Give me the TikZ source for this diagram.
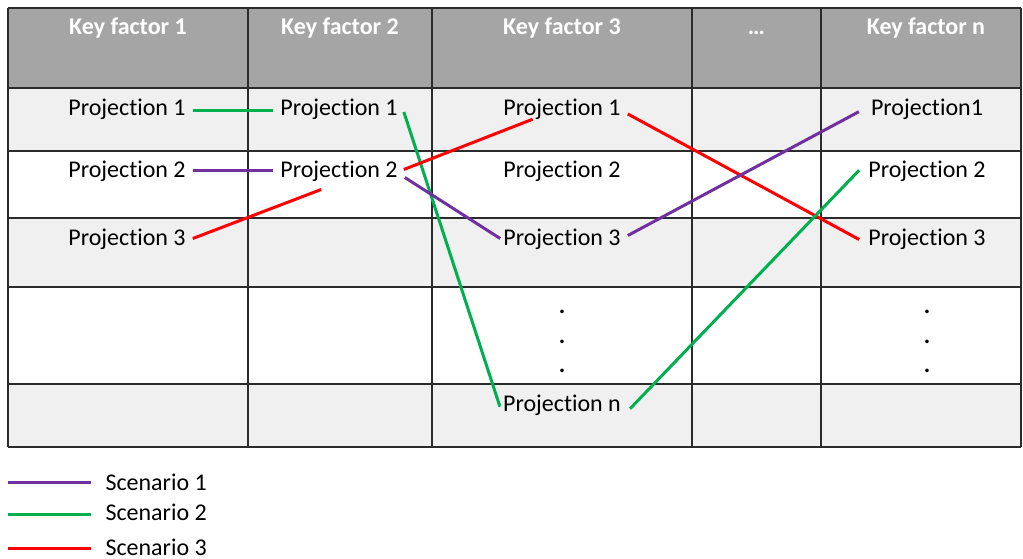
\documentclass[tikz,border=0pt]{standalone}
\usepackage{fontspec}
\setmainfont{Carlito}[Ligatures=NoCommon]
\usetikzlibrary{calc}
\definecolor{hdrgray}{HTML}{A5A5A5}
\definecolor{rowgray}{HTML}{F0F0F0}
\definecolor{gridline}{HTML}{2B2B2B}
\definecolor{scA}{HTML}{7030A0}
\definecolor{scB}{HTML}{00B050}
\definecolor{scC}{HTML}{FF0000}

\begin{document}
\begin{tikzpicture}[x=1pt,y=-1pt,
  cell/.style={font=\fontsize{24}{28}\selectfont, inner sep=0pt, anchor=base},
  head/.style={font=\fontsize{24}{28}\selectfont\bfseries, text=white, inner sep=0pt, anchor=base},
  gridrule/.style={draw=gridline, line width=1.3pt},
  link/.style={line width=3pt},
  sA/.style={link, draw=scA},
  sB/.style={link, draw=scB},
  sC/.style={link, draw=scC}]
\useasboundingbox (0,0) rectangle (1023,559);

% table background: header band and alternating rows
\fill[hdrgray] (8,8) rectangle (1021,88);
\fill[rowgray] (8,88) rectangle (1021,151);
\fill[rowgray] (8,218) rectangle (1021,287);
\fill[rowgray] (8,384) rectangle (1021,447);

% grid
\foreach \yy in {8,88,151,218,287,384,447}
  \draw[gridrule] (8,\yy) -- (1021,\yy);
\foreach \xx in {8,248,432,692,821,1021}
  \draw[gridrule] (\xx,8) -- (\xx,447);

% header
\node[head] (h1) at (128,35) {Key factor 1};
\node[head] (h2) at (340,35) {Key factor 2};
\node[head] (h3) at (562,35) {Key factor 3};
\node[head] (h4) at (756.5,35) {…};
\node[head] (hn) at (926,35) {Key factor n};

% projections
\node[cell] (k1p1) at (127,115.7) {Projection 1};
\node[cell] (k1p2) at (127,177.5) {Projection 2};
\node[cell] (k1p3) at (127,245.5) {Projection 3};
\node[cell] (k2p1) at (339,115.7) {Projection 1};
\node[cell] (k2p2) at (339,177.5) {Projection 2};
\node[cell] (k3p1) at (562,115.7) {Projection 1};
\node[cell] (k3p2) at (562,177.5) {Projection 2};
\node[cell] (k3p3) at (562,245.5) {Projection 3};
\node[cell] (k3pn) at (562,411.5) {Projection n};
\node[cell] (knp1) at (927,115.2) {Projection1};
\node[cell] (knp2) at (927,177.5) {Projection 2};
\node[cell] (knp3) at (927,245.5) {Projection 3};

% vertical ellipses
\foreach \yy/\nm in {313.5/1,343/2,372.5/3}{
  \node[cell, font=\fontsize{24}{28}\selectfont\bfseries] (d3\nm) at (562,\yy) {.};
  \node[cell, font=\fontsize{24}{28}\selectfont\bfseries] (dn\nm) at (927,\yy) {.};
}

% scenario paths
\draw[sB] ([shift={(7,-4.7)}]k1p1.base east) -- ([shift={(-7,-4.7)}]k2p1.base west);
\draw[sA] ([shift={(7,-7)}]k1p2.base east) -- ([shift={(-7,-7)}]k2p2.base west);
\draw[sC] ([shift={(7,-7)}]k1p3.base east) -- ([shift={(41,12)}]k2p2.base west);
\draw[sB] ([shift={(6,-3.7)}]k2p1.base east) -- ([shift={(-3,-4.8)}]k3pn.base west);
\draw[sC] ([shift={(6,-8)}]k2p2.base east) -- ([shift={(29.5,3.5)}]k3p1.base west);
\draw[sA] ([shift={(7,0)}]k2p2.base east) -- ([shift={(-3,-7)}]k3p3.base west);
\draw[sC] ([shift={(7,-1.7)}]k3p1.base east) -- ([shift={(-9,-6)}]knp3.base west);
\draw[sA] ([shift={(7,-10)}]k3p3.base east) -- ([shift={(-12,-3.5)}]knp1.base west);
\draw[sB] ([shift={(9,-2.8)}]k3pn.base east) -- ([shift={(-9,-7.3)}]knp2.base west);

% legend
\node[cell, anchor=base west] (s1) at (105.3,490) {Scenario 1};
\node[cell, anchor=base west] (s2) at (105.3,520.7) {Scenario 2};
\node[cell, anchor=base west] (s3) at (105.3,555) {Scenario 3};
\coordinate (l1) at (8.3,482.7);
\coordinate (l2) at (8.3,514.3);
\coordinate (l3) at (8.3,548.7);
\draw[sA] (l1) -- ([shift={(-14.6,-7.3)}]s1.base west);
\draw[sB] (l2) -- ([shift={(-14.6,-6.4)}]s2.base west);
\draw[sC] (l3) -- ([shift={(-14.6,-6.3)}]s3.base west);
\end{tikzpicture}
\end{document}
